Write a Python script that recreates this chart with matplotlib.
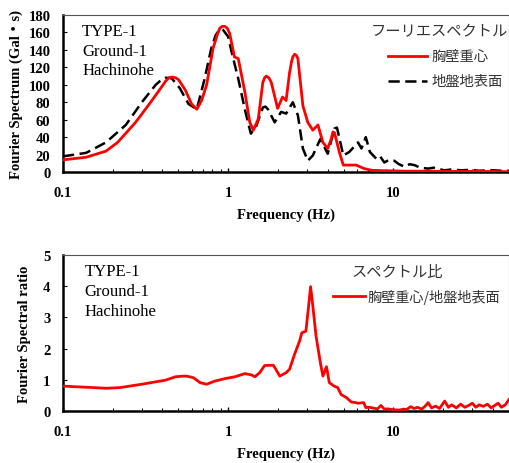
import matplotlib
matplotlib.use("Agg")
import matplotlib.pyplot as plt
from matplotlib.lines import Line2D
from matplotlib.ticker import FixedLocator, NullFormatter, LogLocator

# ---------------- data ----------------
freq_red = [0.1, 0.138, 0.182, 0.214, 0.275, 0.33, 0.37, 0.40, 0.417, 0.437, 0.457, 0.48, 0.50,
            0.55, 0.60, 0.645, 0.69, 0.74, 0.81, 0.86, 0.89, 0.92, 0.953, 0.985, 1.02, 1.09,
            1.15, 1.26, 1.35, 1.42, 1.52, 1.62, 1.66, 1.70, 1.76, 1.82, 1.99, 2.13, 2.24, 2.35,
            2.42, 2.46, 2.52, 2.58, 2.64, 2.83, 3.03, 3.25, 3.49, 3.74, 4.0, 4.2, 4.3, 4.4,
            4.7, 4.97, 5.55, 5.95, 6.65, 7.4, 9.0, 12.0, 16.0, 22.0, 30.0, 40.0, 50.0]
amp_red = [14, 17, 24, 34, 57, 77, 90, 99, 104, 108, 109, 108, 106,
           94, 78, 72, 82, 100, 142, 158, 165, 167, 167, 165, 159, 132,
           130, 92, 57, 48, 61, 103, 108, 110, 108, 103, 73, 86, 82, 114,
           127, 132, 135, 134, 130, 76, 57, 48, 54, 34, 27, 38, 46, 45,
           23, 8, 8, 8, 4, 2, 1.5, 1, 1, 0.8, 0.8, 0.6, 0.5]

freq_blk = [0.1, 0.138, 0.182, 0.24, 0.30, 0.364, 0.395, 0.417, 0.44, 0.457, 0.51, 0.575, 0.645,
            0.72, 0.79, 0.84, 0.89, 0.93, 1.0, 1.05, 1.15, 1.26, 1.37, 1.48, 1.62, 1.68, 1.74,
            1.91, 2.09, 2.24, 2.46, 2.64, 2.83, 3.03, 3.25, 3.61, 4.0, 4.4, 4.55, 4.97, 5.4,
            6.1, 6.4, 6.8, 7.2, 7.9, 8.3, 8.8, 9.4, 10.1, 10.8, 11.7, 12.5, 13.4, 14.5, 16.2,
            17.5, 20.3, 22.5, 25.6, 29.0, 33.0, 37.0, 40.8, 45.0, 50.0]
amp_blk = [18, 22, 34, 54, 80, 100, 106, 108, 108, 107, 96, 78, 72,
           107, 142, 157, 164, 163, 155, 137, 107, 72, 44, 53, 74, 75, 72,
           57, 69, 67, 80, 65, 27, 13, 19, 38, 21, 50, 51, 19, 23,
           34, 27, 40, 23, 15, 18, 11, 14, 13, 9, 6, 9, 8, 5, 4,
           5, 2, 3, 2, 2.5, 1.5, 2, 2, 1.5, 1.5]

freq_ratio = [0.1, 0.183, 0.22, 0.30, 0.417, 0.48, 0.54, 0.56, 0.615, 0.675, 0.74, 0.83, 0.955,
              1.1, 1.26, 1.38, 1.45, 1.55, 1.66, 1.87, 1.93, 2.05, 2.24, 2.35, 2.52, 2.70, 2.79,
              2.95, 3.05, 3.15, 3.25, 3.40, 3.61, 3.74, 3.93, 4.09, 4.37, 4.6, 4.82, 5.19, 5.55,
              5.9, 6.1, 6.6, 6.8, 7.2, 7.6, 8.0, 8.4, 8.8, 9.2, 10.0, 10.8, 11.5, 12.0, 12.7,
              13.3, 14.0, 14.8, 15.5, 16.2, 17.0, 18.0, 19.0, 20.4, 21.5, 22.5, 24.0, 25.5,
              27.0, 28.5, 30.0, 31.5, 33.0, 35.0, 37.0, 39.0, 41.0, 43.0, 45.0, 47.5, 50.0]
ratio = [0.80, 0.73, 0.75, 0.86, 0.99, 1.10, 1.12, 1.12, 1.07, 0.91, 0.86, 0.96, 1.04,
         1.10, 1.20, 1.16, 1.10, 1.23, 1.46, 1.47, 1.36, 1.12, 1.23, 1.34, 1.82, 2.24, 2.51,
         2.56, 3.26, 3.99, 3.37, 2.40, 1.55, 1.12, 1.42, 0.91, 0.80, 0.75, 0.53, 0.43, 0.29,
         0.27, 0.25, 0.27, 0.11, 0.12, 0.09, 0.07, 0.18, 0.06, 0.07, 0.04, 0.03, 0.06, 0.05, 0.14,
         0.08, 0.12, 0.06, 0.15, 0.27, 0.10, 0.16, 0.08, 0.32, 0.12, 0.20, 0.10, 0.22,
         0.12, 0.18, 0.25, 0.12, 0.20, 0.15, 0.22, 0.10, 0.18, 0.25, 0.12, 0.20, 0.37]

top_yticks = [0, 20, 40, 60, 80, 100, 120, 140, 160, 180]
bot_yticks = [0, 1, 2, 3, 4, 5]
xticks = [0.1, 1, 10]
xtick_labels = ["0.1", "1", "10"]
info_lines = ["TYPE-1", "Ground-1", "Hachinohe"]

# ---------------- style ----------------
serif = ["Liberation Serif", "Noto Sans CJK JP"]
jp = ["Noto Sans CJK JP", "DejaVu Sans"]
jp_color = "#333333"
dash = (0, (4.5, 2.2))

fig = plt.figure(figsize=(5.10, 4.64), dpi=100)
ax1 = fig.add_axes([0.1235, 0.627, 0.8745, 0.3385])
ax2 = fig.add_axes([0.1235, 0.112, 0.8745, 0.336])


def style_axis(ax, yticks, ylim):
    ax.set_xscale("log")
    ax.set_xlim(0.1, 50)
    ax.set_ylim(*ylim)
    ax.set_yticks(yticks)
    ax.xaxis.set_major_locator(FixedLocator(xticks))
    ax.set_xticklabels(xtick_labels)
    ax.xaxis.set_minor_locator(LogLocator(base=10, subs=range(2, 10)))
    ax.xaxis.set_minor_formatter(NullFormatter())
    for lbl in ax.get_xticklabels() + ax.get_yticklabels():
        lbl.set_fontfamily(serif)
        lbl.set_fontweight("bold")
        lbl.set_fontsize(10.5)
    ax.tick_params(axis="x", which="major", direction="in", length=3, width=1, pad=10)
    ax.tick_params(axis="x", which="minor", direction="in", length=2, width=0.8)
    ax.tick_params(axis="y", which="major", direction="in", length=3, width=0.8, pad=9)
    ax.tick_params(top=False, right=False)
    for s in ["left", "bottom"]:
        ax.spines[s].set_linewidth(1.8)
        ax.spines[s].set_color("black")
    for s in ["top", "right"]:
        ax.spines[s].set_linewidth(0.8)
        ax.spines[s].set_color("#555555")


style_axis(ax1, top_yticks, (0, 180))
style_axis(ax2, bot_yticks, (0, 5))

ax1.plot(freq_blk, amp_blk, color="black", lw=1.8, ls=dash, zorder=2)
ax1.plot(freq_red, amp_red, color="#ff0000", lw=2.0, zorder=3)
ax2.plot(freq_ratio, ratio, color="#ff0000", lw=2.0, zorder=3)

ax1.set_ylabel("Fourier Spectrum (Gal・s)", family=serif, fontweight="bold", fontsize=10.5, labelpad=4)
ax2.set_ylabel("Fourier Spectral ratio", family=serif, fontweight="bold", fontsize=10.5, labelpad=9)
ax1.set_xlabel("Frequency (Hz)", family=serif, fontweight="bold", fontsize=10.5, labelpad=6)
ax2.set_xlabel("Frequency (Hz)", family=serif, fontweight="bold", fontsize=10.5, labelpad=6)

# info texts
for ax, x0, ys in [(ax1, 0.043, [0.898, 0.771, 0.65]), (ax2, 0.049, [0.897, 0.769, 0.641])]:
    for t, y in zip(info_lines, ys):
        ax.text(x0, y, t, transform=ax.transAxes, family=serif, fontsize=12,
                va="center", ha="left")

# top legend
ax1.text(0.998, 0.898, "フーリエスペクトル", transform=ax1.transAxes, family=jp,
         fontsize=11, ha="right", va="center", color=jp_color)
ax1.add_line(Line2D([0.729, 0.816], [0.739, 0.739], transform=ax1.transAxes,
                    color="#ff0000", lw=2.0))
ax1.text(0.827, 0.739, "胸壁重心", transform=ax1.transAxes, family=jp,
         fontsize=10.3, ha="left", va="center", color=jp_color)
ax1.add_line(Line2D([0.729, 0.816], [0.58, 0.58], transform=ax1.transAxes,
                    color="black", lw=1.8, ls=dash))
ax1.text(0.827, 0.58, "地盤地表面", transform=ax1.transAxes, family=jp,
         fontsize=10.3, ha="left", va="center", color=jp_color)

# bottom legend
ax2.text(0.749, 0.897, "スペクトル比", transform=ax2.transAxes, family=jp,
         fontsize=11, ha="center", va="center", color=jp_color)
ax2.add_line(Line2D([0.605, 0.677], [0.737, 0.737], transform=ax2.transAxes,
                    color="#ff0000", lw=2.0))
ax2.text(0.684, 0.737, "胸壁重心/地盤地表面", transform=ax2.transAxes, family=jp,
         fontsize=10.2, ha="left", va="center", color=jp_color)

fig.savefig("out.png", dpi=100)
